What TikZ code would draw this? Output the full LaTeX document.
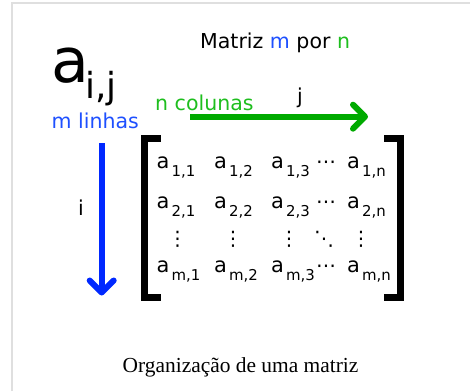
\documentclass[tikz,border=0pt]{standalone}
\usepackage{fontspec}
\setmainfont{DejaVu Sans}
\newfontfamily\capfont{Liberation Serif}
\usetikzlibrary{arrows.meta}
\definecolor{tblue}{RGB}{30,80,255}
\definecolor{ablue}{RGB}{0,40,255}
\definecolor{tgreen}{RGB}{30,190,30}
\definecolor{agreen}{RGB}{0,170,0}
\newcommand{\fs}[1]{\fontsize{#1}{#1}\selectfont}
\newcommand{\mel}[1]{{\fs{21}a}\kern2bp\raisebox{-8.5bp}{\fs{15}#1}}
\tikzset{
  >={Straight Barb[length=12bp,width=24bp,round]},
  txt/.style={inner sep=0pt,anchor=base west,font=\fs{20.6}},
  dts/.style={inner sep=0pt,font=\fs{20}},
  brk/.style={line width=7bp,line join=miter},
  arr/.style={->,line width=6bp},
}
\begin{document}
\begin{tikzpicture}[x=1bp,y=-1bp]
\useasboundingbox (0,0) rectangle (470,391);
\draw[gray!25,line width=2bp] (12,391)--(12,3)--(470,3);
% titles
\node[txt] (title) at (200,48) {Matriz \textcolor{tblue}{m} por \textcolor{tgreen}{n}};
\node[txt,font=\fs{62}] (bigA) at (51,82) {a};
\node[txt,font=\fs{36}] (subIJ) at (85,98) {i,j};
\node[txt,text=tblue] (lin) at (51.5,128) {m linhas};
\node[txt,text=tgreen] (col) at (155,110) {n colunas};
\node[txt] (jlab) at (297,103) {j};
\node[txt] (ilab) at (78,215) {i};
% arrows
\coordinate (jS) at (190,116.7); \coordinate (jE) at (368,116.7);
\coordinate (iS) at (101.7,143); \coordinate (iE) at (101.7,295.5);
\draw[arr,agreen] (jS)--(jE);
\draw[arr,ablue] (iS)--(iE);
% brackets
\draw[brk] (160.7,138.3)--(144.5,138.3)--(144.5,297.5)--(160.7,297.5);
\draw[brk] (384.3,138.3)--(400.7,138.3)--(400.7,297.5)--(384.3,297.5);
% entries
\node[txt] (a11) at (156.5,168) {\mel{1,1}}; \node[txt] (a12) at (214,168) {\mel{1,2}};
\node[txt] (a13) at (271,168) {\mel{1,3}}; \node[txt] (a1n) at (347,168) {\mel{1,n}};
\node[txt] (a21) at (156.5,208) {\mel{2,1}}; \node[txt] (a22) at (214,208) {\mel{2,2}};
\node[txt] (a23) at (271,208) {\mel{2,3}}; \node[txt] (a2n) at (347,208) {\mel{2,n}};
\node[txt] (am1) at (156.5,272) {\mel{m,1}}; \node[txt] (am2) at (214,272) {\mel{m,2}};
\node[txt] (am3) at (271,272) {\mel{m,3}}; \node[txt] (amn) at (347,272) {\mel{m,n}};
\node[dts] (h1) at (326,165) {⋯}; \node[dts] (h2) at (326,205) {⋯};
\node[dts] (h4) at (326,269) {⋯};
\node[dts] (v1) at (177.7,239) {⋮}; \node[dts] (v2) at (233,239) {⋮};
\node[dts] (v3) at (289,239) {⋮}; \node[dts] (v5) at (361,239) {⋮};
\node[dts] (d4) at (324,239.5) {⋱};
% caption
\node[txt,font=\capfont\fs{21.5}] (cap) at (122.5,372) {Organização de uma matriz};
\end{tikzpicture}
\end{document}
